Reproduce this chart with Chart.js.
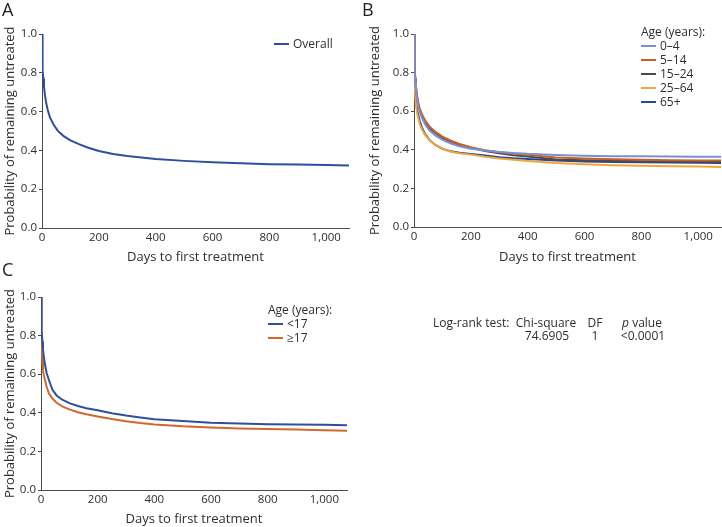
<!DOCTYPE html>
<html lang="en">
<head>
  <meta charset="UTF-8">
  <title>Days to first treatment</title>
  <script src="https://cdn.jsdelivr.net/npm/chart.js"></script>
  <style>
    body {
      margin: 0;
      background: #fff;
      font-family: 'Open Sans', sans-serif;
      color: #2e2e2e;
    }
    #page {
      position: relative;
      width: 722px;
      height: 527px;
      overflow: hidden;
    }
    canvas {
      position: absolute;
    }
    .letter {
      position: absolute;
      font-size: 18px;
      line-height: 20px;
      color: #222;
    }
    .legend {
      position: absolute;
      font-size: 12px;
      line-height: 14px;
    }
    .legend .row {
      display: flex;
      align-items: center;
      height: 14px;
    }
    .legend .swatch {
      width: 15px;
      height: 2px;
      margin-right: 4px;
    }
    .stat {
      position: absolute;
      font-size: 12px;
      line-height: 14px;
      white-space: nowrap;
    }
    .center {
      transform: translateX(-50%);
    }
  </style>
</head>
<body>
  <div id="page">
    <canvas id="chartA" width="360" height="265" style="left:0;top:0"></canvas>
    <canvas id="chartB" width="362" height="265" style="left:360px;top:0"></canvas>
    <canvas id="chartC" width="360" height="272" style="left:0;top:255px"></canvas>

    <div class="letter" style="left:2px;top:-1px">A</div>
    <div class="letter" style="left:362px;top:-1px">B</div>
    <div class="letter" style="left:2px;top:259px">C</div>

    <div class="legend" id="legendA" style="left:274px;top:37px"></div>
    <div class="legend" id="legendB" style="left:641px;top:25px"></div>
    <div class="legend" id="legendC" style="left:268px;top:303px"></div>

    <div class="stat" style="left:433px;top:316px">Log-rank test:</div>
    <div class="stat center" style="left:546px;top:316px">Chi-square</div>
    <div class="stat center" style="left:595px;top:316px">DF</div>
    <div class="stat center" style="left:642px;top:316px"><i>p</i> value</div>
    <div class="stat center" style="left:547px;top:329px">74.6905</div>
    <div class="stat center" style="left:595px;top:329px">1</div>
    <div class="stat center" style="left:643px;top:329px">&lt;0.0001</div>
  </div>

  <script>
    // time points (days) shared by every curve
    const days = [0, 1, 2, 3, 5, 7, 10, 14, 20, 28, 40, 55, 75, 100, 130, 160, 200, 250, 300, 350, 400, 500, 600, 700, 800, 900, 1000, 1080];

    // panel A
    const overall = [1, 0.88, 0.84, 0.81, 0.77, 0.73, 0.69, 0.65, 0.61, 0.57, 0.535, 0.502, 0.475, 0.452, 0.432, 0.415, 0.397, 0.381, 0.371, 0.363, 0.356, 0.346, 0.339, 0.334, 0.329, 0.327, 0.325, 0.322];

    // panel B, by age group
    const ageGroups = ["0–4", "5–14", "15–24", "25–64", "65+"];
    const age0to4 = [1, 0.88, 0.83, 0.8, 0.75, 0.71, 0.67, 0.63, 0.595, 0.565, 0.53, 0.5, 0.475, 0.452, 0.432, 0.418, 0.405, 0.396, 0.389, 0.384, 0.379, 0.373, 0.369, 0.367, 0.366, 0.365, 0.364, 0.364];
    const age5to14 = [1, 0.9, 0.85, 0.82, 0.77, 0.73, 0.69, 0.65, 0.615, 0.585, 0.55, 0.52, 0.493, 0.468, 0.447, 0.43, 0.413, 0.398, 0.388, 0.38, 0.374, 0.36, 0.355, 0.351, 0.348, 0.346, 0.345, 0.344];
    const age15to24 = [1, 0.89, 0.84, 0.81, 0.76, 0.72, 0.68, 0.64, 0.605, 0.575, 0.54, 0.512, 0.487, 0.462, 0.442, 0.426, 0.41, 0.394, 0.382, 0.372, 0.365, 0.35, 0.346, 0.343, 0.341, 0.34, 0.339, 0.338];
    const age25to64 = [1, 0.82, 0.76, 0.72, 0.67, 0.63, 0.6, 0.57, 0.535, 0.505, 0.475, 0.45, 0.425, 0.405, 0.39, 0.382, 0.375, 0.364, 0.355, 0.348, 0.342, 0.331, 0.325, 0.32, 0.317, 0.315, 0.313, 0.311];
    const age65plus = [1, 0.85, 0.79, 0.75, 0.7, 0.66, 0.62, 0.585, 0.55, 0.515, 0.48, 0.45, 0.425, 0.405, 0.392, 0.385, 0.378, 0.37, 0.362, 0.356, 0.352, 0.344, 0.34, 0.337, 0.335, 0.334, 0.333, 0.332];
    const ageColors = ["#7d8fd3", "#c6612a", "#4b4b4b", "#f1a737", "#27479a"];

    // panel C, two age bands
    const ageBands = ["<17", "≥17"];
    const under17 = [1, 0.9, 0.85, 0.82, 0.77, 0.73, 0.69, 0.65, 0.605, 0.57, 0.52, 0.49, 0.468, 0.45, 0.435, 0.424, 0.413, 0.398, 0.386, 0.376, 0.367, 0.357, 0.348, 0.344, 0.341, 0.34, 0.338, 0.335];
    const over17 = [1, 0.8, 0.75, 0.72, 0.67, 0.62, 0.595, 0.57, 0.535, 0.5, 0.475, 0.452, 0.433, 0.418, 0.403, 0.392, 0.381, 0.368, 0.356, 0.347, 0.34, 0.33, 0.324, 0.319, 0.316, 0.313, 0.31, 0.307];
    const bandColors = ["#2d4f9e", "#d0692b"];

    const overallColor = "#2d4f9e";
    const xTicks = [0, 200, 400, 600, 800, 1000];
    const yTicks = [0, 0.2, 0.4, 0.6, 0.8, 1.0];
    const xMax = 1080;

    Chart.defaults.font.family = "'Open Sans', sans-serif";
    Chart.defaults.color = "#2e2e2e";

    function toPoints(values) {
      return values.map((v, i) => ({ x: days[i], y: v }));
    }

    function makeChart(id, datasets, layout) {
      const axisColor = "#4a4a4a";
      return new Chart(document.getElementById(id), {
        type: "line",
        data: {
          datasets: datasets.map(d => ({
            label: d.label,
            data: toPoints(d.values),
            borderColor: d.color,
            borderWidth: 2,
            pointRadius: 0,
            tension: 0,
            fill: false
          }))
        },
        options: {
          responsive: false,
          animation: false,
          layout: { padding: { top: layout.top, right: layout.right, left: 0, bottom: 0 } },
          plugins: { legend: { display: false }, tooltip: { enabled: false } },
          scales: {
            x: {
              type: "linear",
              min: 0,
              max: xMax,
              afterBuildTicks: s => { s.ticks = xTicks.map(v => ({ value: v })); },
              afterFit: s => { s.height = layout.xHeight; },
              grid: { display: false, drawTicks: false },
              border: { display: true, color: axisColor, width: 1 },
              ticks: {
                padding: 3,
                font: { size: 11.5 },
                callback: v => v.toLocaleString("en-US")
              },
              title: {
                display: true,
                text: "Days to first treatment",
                font: { size: 13, lineHeight: 1.2 },
                padding: { top: 0, bottom: 0 }
              }
            },
            y: {
              min: 0,
              max: 1,
              afterBuildTicks: s => { s.ticks = yTicks.map(v => ({ value: v })); },
              afterFit: s => { s.width = layout.yWidth; },
              grid: { display: true, drawOnChartArea: false, drawTicks: true, tickLength: 3, color: axisColor },
              border: { display: true, color: axisColor, width: 1 },
              ticks: {
                padding: 2,
                font: { size: 11.5 },
                callback: v => v.toFixed(1)
              },
              title: {
                display: true,
                text: "Probability of remaining untreated",
                font: { size: 13, lineHeight: 1.2 },
                padding: { top: layout.yTitlePad, bottom: 0 }
              }
            }
          }
        }
      });
    }

    function makeLegend(id, title, labels, colors) {
      const box = document.getElementById(id);
      let html = title ? `<div>${title}</div>` : "";
      labels.forEach((label, i) => {
        html += `<div class="row"><span class="swatch" style="background:${colors[i]}"></span>${label.replace("<", "&lt;")}</div>`;
      });
      box.innerHTML = html;
    }

    makeChart("chartA", [
      { label: "Overall", values: overall, color: overallColor }
    ], { top: 34, right: 11, xHeight: 37, yWidth: 42, yTitlePad: 2 });

    const groupValues = [age0to4, age5to14, age15to24, age25to64, age65plus];
    makeChart("chartB", ageGroups.map((g, i) => ({
      label: g, values: groupValues[i], color: ageColors[i]
    })), { top: 34, right: 1, xHeight: 38, yWidth: 54, yTitlePad: 7 });

    const bandValues = [under17, over17];
    makeChart("chartC", ageBands.map((b, i) => ({
      label: b, values: bandValues[i], color: bandColors[i]
    })), { top: 42, right: 13, xHeight: 37, yWidth: 41, yTitlePad: 2 });

    makeLegend("legendA", "", ["Overall"], [overallColor]);
    makeLegend("legendB", "Age (years):", ageGroups, ageColors);
    makeLegend("legendC", "Age (years):", ageBands, bandColors);
  </script>
</body>
</html>
